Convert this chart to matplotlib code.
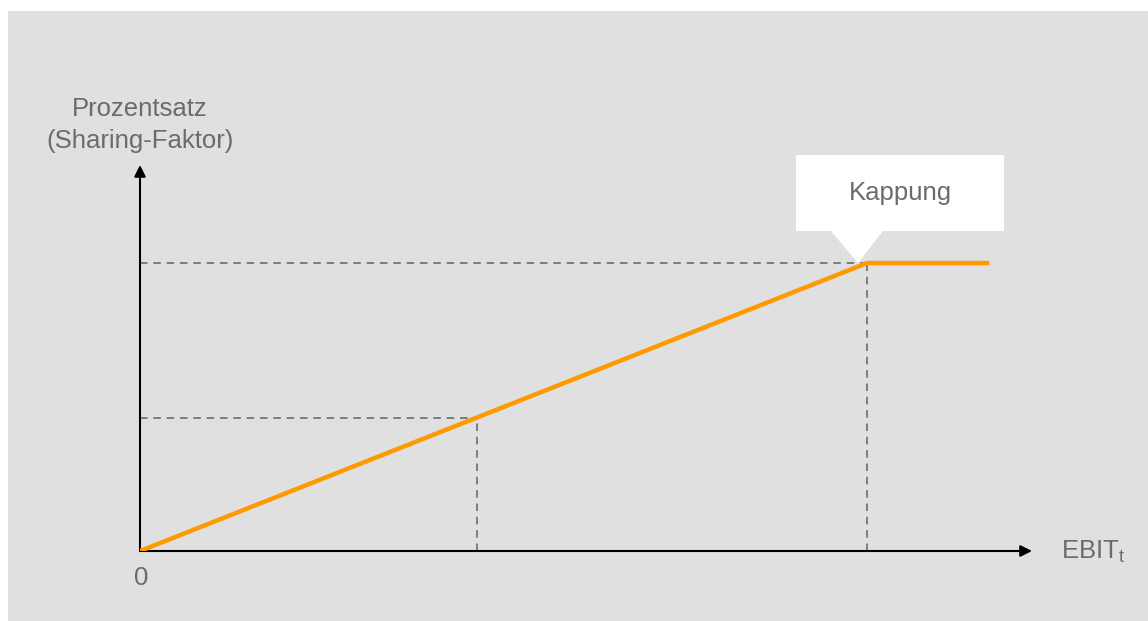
import matplotlib.pyplot as plt
from matplotlib.patches import Polygon, Rectangle

# data (arbitrary units)
ebit = [0.0, 8.15, 9.52]          # EBIT_t
sharing = [0.0, 7.46, 7.46]       # Prozentsatz (Sharing-Faktor)
mid_point = (3.78, 3.45)          # example point on the ramp
cap_point = (ebit[1], sharing[1])  # Kappung

x_label = "EBIT$_\\mathregular{t}$"
y_label = "Prozentsatz\n(Sharing-Faktor)"
cap_label = "Kappung"

plt.rcParams['font.family'] = ['Liberation Sans', 'DejaVu Sans']
W, H = 1148, 621
fig = plt.figure(figsize=(W / 100, H / 100), dpi=100)
fig.patch.set_facecolor('white')

# pixel overlay for background, annotation box and labels
over = fig.add_axes([0, 0, 1, 1])
over.set_xlim(0, W)
over.set_ylim(H, 0)
over.axis('off')
over.add_patch(Rectangle((8, 11), W, H, facecolor='#e0e0e0', edgecolor='none', zorder=0))

# main axes: origin at px (140, 551), x arrow tip at 1032, y arrow tip at 165
x0, y0, x1, y1 = 140, 551, 1032, 165
ax = fig.add_axes([x0 / W, (H - y0) / H, (x1 - x0) / W, (y0 - y1) / H])
ax.set_xlim(0, 10)
ax.set_ylim(0, 10)
ax.axis('off')

gray = '#6b6b6b'
dash = dict(color=gray, lw=1.2, ls=(0, (4.5, 3.5)), zorder=2)
for px, py in [mid_point, cap_point]:
    ax.plot([0, px], [py, py], **dash)
    ax.plot([px, px], [0, py], **dash)

ax.plot(ebit, sharing, color='#ff9900', lw=3.2, solid_capstyle='butt', zorder=4)

arrow = dict(arrowstyle='-|>', color='black', lw=1.5, mutation_scale=17, shrinkA=0, shrinkB=0)
ax.annotate('', xy=(10, 0), xytext=(0, 0), arrowprops=arrow, annotation_clip=False, zorder=3)
ax.annotate('', xy=(0, 10), xytext=(0, 0), arrowprops=arrow, annotation_clip=False, zorder=3)

# callout box
over.add_patch(Polygon([(796, 155), (1004, 155), (1004, 231), (883, 231), (858, 263),
                        (831, 231), (796, 231)], closed=True, facecolor='white',
                       edgecolor='none', zorder=1))
fs = 18.5
over.text(900, 193, cap_label, fontsize=fs, color=gray, ha='center', va='center')

over.text(140, 125, y_label, fontsize=fs, color=gray, ha='center', va='center',
          linespacing=1.45)
over.text(141, 578, "0", fontsize=fs, color=gray, ha='center', va='center')
over.text(1061, 552, x_label, fontsize=fs, color=gray, ha='left', va='center')

fig.savefig('out.png', dpi=100, facecolor=fig.get_facecolor())
